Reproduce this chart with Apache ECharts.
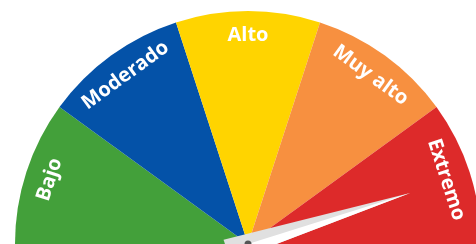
<!DOCTYPE html>
<html>
<head>
<meta charset="utf-8">
<script src="https://cdn.jsdelivr.net/npm/echarts@6/dist/echarts.min.js"></script>
<style>
html,body{margin:0;padding:0;background:#fff;}
#chart{width:476px;height:244px;}
</style>
</head>
<body>
<div id="chart"></div>
<script>
// Data
const categories = ['Bajo', 'Moderado', 'Alto', 'Muy alto', 'Extremo'];
const segmentValues = [1, 1, 1, 1, 1];
const segmentColors = ['#43a03a', '#0452a8', '#ffd400', '#f79040', '#dd2a2a'];
const needleValue = 90.3; // on a 0-100 scale
const gaugeMin = 0;
const gaugeMax = 100;

const chart = echarts.init(document.getElementById('chart'), null, {renderer: 'canvas'});

const center = [248, 244];
const R = 233;
const needleLen = 192;
const needleWidth = 23;
const needleTail = 22;

const pieData = categories.map((c, i) => ({name: c, value: segmentValues[i], itemStyle: {color: segmentColors[i]}}));
const labelData = categories.map((c, i) => ({name: c, value: segmentValues[i]}));

function needleGauge(path, color, width, xOff, withAnchor) {
  return {
    type: 'gauge',
    z: 10,
    center: center,
    radius: R,
    startAngle: 180,
    endAngle: 0,
    min: gaugeMin,
    max: gaugeMax,
    axisLine: {show: false},
    splitLine: {show: false},
    axisTick: {show: false},
    axisLabel: {show: false},
    title: {show: false},
    detail: {show: false},
    pointer: {
      show: true,
      icon: path,
      length: needleLen,
      width: width,
      offsetCenter: [xOff, needleTail],
      itemStyle: {color: color}
    },
    anchor: withAnchor ? {show: true, showAbove: true, size: 7, itemStyle: {color: '#555555'}} : {show: false},
    data: [{value: needleValue}]
  };
}

chart.setOption({
  animation: false,
  series: [
    {
      type: 'pie',
      center: center,
      radius: [0, R],
      startAngle: 180,
      endAngle: 0,
      silent: true,
      label: {show: false},
      labelLine: {show: false},
      itemStyle: {borderWidth: 0},
      data: pieData
    },
    {
      type: 'pie',
      center: center,
      radius: [178, R],
      startAngle: 180,
      endAngle: 0,
      silent: true,
      itemStyle: {color: 'rgba(0,0,0,0)'},
      label: {
        show: true,
        position: 'inside',
        rotate: 'tangential',
        color: '#fff',
        fontWeight: 'bold',
        fontSize: 20,
        fontFamily: 'Open Sans'
      },
      labelLine: {show: false},
      data: labelData
    },
    needleGauge('path://M5 0 L0 100 L10 100 Z', '#e0e0e0', needleWidth, 0, false),
    needleGauge('path://M0 0 L0 100 L10 100 Z', '#ffffff', needleWidth / 2, needleWidth / 4, true)
  ]
});
</script>
</body>
</html>
